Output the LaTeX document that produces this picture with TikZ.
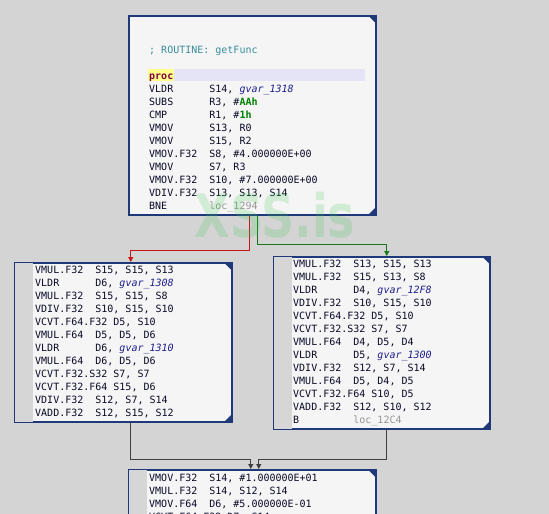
\documentclass[tikz,border=0pt]{standalone}
\usepackage{fontspec}
\usepackage{xcolor}
\usetikzlibrary{arrows.meta,shadows}
\newfontfamily\codefont{DejaVu Sans Mono}
\newfontfamily\wmfont{DejaVu Sans}

\definecolor{bgc}{RGB}{212,212,212}
\definecolor{boxc}{RGB}{245,245,245}
\definecolor{navyc}{RGB}{31,56,122}
\definecolor{gutc}{RGB}{214,214,214}
\definecolor{lavc}{RGB}{228,228,246}
\definecolor{procbg}{RGB}{255,255,140}
\definecolor{procc}{RGB}{128,0,64}
\definecolor{cmtc}{RGB}{55,140,155}
\definecolor{hexc}{RGB}{0,128,0}
\definecolor{gvc}{RGB}{30,30,140}
\definecolor{locc}{RGB}{150,150,150}
\definecolor{inkc}{RGB}{10,10,40}
\definecolor{redc}{RGB}{200,20,20}
\definecolor{grnc}{RGB}{25,120,25}
\definecolor{grayc}{RGB}{64,64,64}
\definecolor{wmc}{RGB}{60,200,80}

\newcommand{\ins}[2]{\makebox[60.2pt][l]{#1}#2}
\newcommand{\gv}[1]{\textcolor{gvc}{\textit{#1}}}
\newcommand{\hx}[1]{\textcolor{hexc}{\textbf{#1}}}
\newcommand{\lc}[1]{\textcolor{locc}{#1}}

\tikzset{
  block/.style={draw=navyc, line width=1.5pt, fill=boxc, inner sep=0pt, anchor=north west,
    general shadow={fill=black, shadow xshift=1.2pt, shadow yshift=-1.2pt}},
  code/.style={anchor=base west, inner sep=0pt, align=left, text=inkc,
    font=\codefont\fontsize{10}{13}\selectfont},
  flow/.style={line width=1pt, -{Triangle[length=5pt,width=5pt]}},
}

\begin{document}
\begin{tikzpicture}[x=1pt,y=-1pt]
\useasboundingbox (0,0) rectangle (549,514);
\clip (0,0) rectangle (549,514);
\fill[bgc] (0,0) rectangle (549,514);

% blocks
\node[block, minimum width=247pt, minimum height=199pt] (top) at (128,15) {};
\node[block, minimum width=217pt, minimum height=159pt] (lft) at (14,262) {};
\node[block, minimum width=216pt, minimum height=172pt] (rgt) at (273,256) {};
\node[block, minimum width=247pt, minimum height=80pt] (bot) at (128,469) {};

\foreach \b in {top,lft,rgt,bot}{
  \fill[navyc] (\b.north east) -- ++(-9,0) -- ++(9,9) -- cycle;
  \fill[navyc] (\b.south east) -- ++(-9,0) -- ++(9,-9) -- cycle;
}
\foreach \b in {lft,rgt,bot}
  \fill[gutc] ([shift={(0.75,0.75)}]\b.north west) rectangle ([shift={(19,-0.75)}]\b.south west);

\fill[lavc] (148,69) rectangle (365,81);
\fill[procbg] (148,69) rectangle (174,81);

% code text (base = last line)
\node[code] (topcode) at (149,209) {\textcolor{cmtc}{; ROUTINE: getFunc}\\[13pt]
\textcolor{procc}{\textbf{proc}}\\
\ins{VLDR}{S14, \gv{gvar\_1318}}\\
\ins{SUBS}{R3, \#\hx{AAh}}\\
\ins{CMP}{R1, \#\hx{1h}}\\
\ins{VMOV}{S13, R0}\\
\ins{VMOV}{S15, R2}\\
\ins{VMOV.F32}{S8, \#4.000000E+00}\\
\ins{VMOV}{S7, R3}\\
\ins{VMOV.F32}{S10, \#7.000000E+00}\\
\ins{VDIV.F32}{S13, S13, S14}\\
\ins{BNE}{\lc{loc\_1294}}};

\node[code] (lftcode) at (35,416) {\ins{VMUL.F32}{S15, S15, S13}\\
\ins{VLDR}{D6, \gv{gvar\_1308}}\\
\ins{VMUL.F32}{S15, S15, S8}\\
\ins{VDIV.F32}{S10, S15, S10}\\
VCVT.F64.F32 D5, S10\\
\ins{VMUL.F64}{D5, D5, D6}\\
\ins{VLDR}{D6, \gv{gvar\_1310}}\\
\ins{VMUL.F64}{D6, D5, D6}\\
VCVT.F32.S32 S7, S7\\
VCVT.F32.F64 S15, D6\\
\ins{VDIV.F32}{S12, S7, S14}\\
\ins{VADD.F32}{S12, S15, S12}};

\node[code] (rgtcode) at (293,423) {\ins{VMUL.F32}{S13, S15, S13}\\
\ins{VMUL.F32}{S15, S13, S8}\\
\ins{VLDR}{D4, \gv{gvar\_12F8}}\\
\ins{VDIV.F32}{S10, S15, S10}\\
VCVT.F64.F32 D5, S10\\
VCVT.F32.S32 S7, S7\\
\ins{VMUL.F64}{D4, D5, D4}\\
\ins{VLDR}{D5, \gv{gvar\_1300}}\\
\ins{VDIV.F32}{S12, S7, S14}\\
\ins{VMUL.F64}{D5, D4, D5}\\
VCVT.F32.F64 S10, D5\\
\ins{VADD.F32}{S12, S10, S12}\\
\ins{B}{\lc{loc\_12C4}}};

\node[code] (botcode) at (149,520) {\ins{VMOV.F32}{S14, \#1.000000E+01}\\
\ins{VMUL.F32}{S14, S12, S14}\\
\ins{VMOV.F64}{D6, \#5.000000E-01}\\
VCVT.F64.F32 D7, S14};

% connectors
\draw[flow, redc] ([xshift=-2.5pt]top.south) -- ++(0,35) -| ([xshift=7.5pt]lft.north);
\draw[flow, grnc] ([xshift=5.5pt]top.south) -- ++(0,29) -| ([xshift=5pt]rgt.north);
\draw[flow, grayc] ([xshift=7.5pt]lft.south) -- ++(0,37) -| ([xshift=-1.5pt]bot.north);
\draw[flow, grayc] ([xshift=5pt]rgt.south) -- ++(0,30) -| ([xshift=6.5pt]bot.north);

\node[opacity=0.2, text=wmc, font=\wmfont\bfseries\fontsize{46}{46}\selectfont, yscale=1.3] (wm) at (275,215) {XSS.is};
\end{tikzpicture}
\end{document}
